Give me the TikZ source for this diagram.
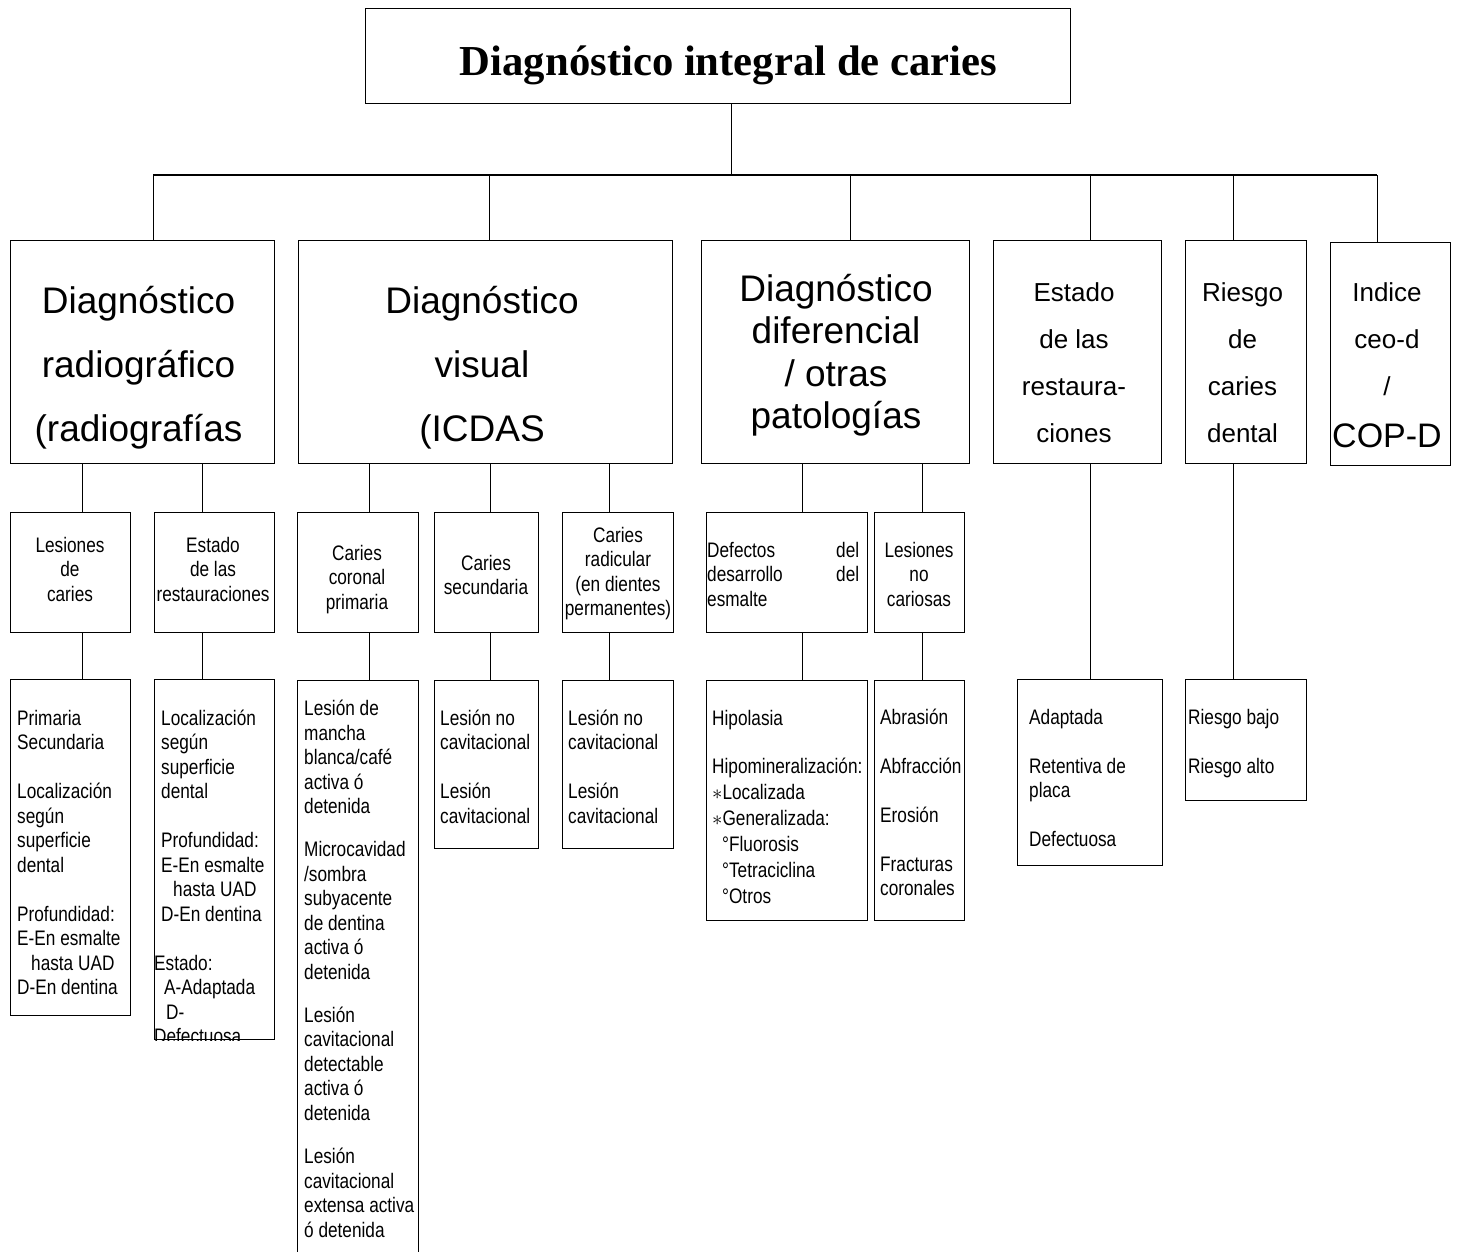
\documentclass[tikz,border=0pt]{standalone}
\usepackage{fontspec}
\setmainfont{Liberation Sans}
\newfontfamily\titlefont{Liberation Serif}
\newfontfamily\narrowfont{Liberation Sans}[FakeStretch=0.82]
\begin{document}
\begin{tikzpicture}[x=1pt,y=-1pt,
    boxed/.style={draw, line width=1.3pt, inner sep=0pt, anchor=north west},
    link/.style={line width=1.3pt},
    bigtxt/.style={font=\fontsize{37}{64.3}\selectfont, align=center, anchor=base, inner sep=0pt},
    midtxt/.style={font=\fontsize{26}{46.7}\selectfont, align=center, anchor=base, inner sep=0pt},
    subtxt/.style={font=\narrowfont\fontsize{21}{24.5}\selectfont, align=center, anchor=base, inner sep=0pt},
    listtxt/.style={font=\narrowfont\fontsize{21}{24.5}\selectfont, align=left, anchor=base west, inner sep=0pt}]
    \useasboundingbox (0,0) rectangle (1457,1251);

    % boxes
    \node[boxed, minimum width=705pt, minimum height=95pt] (title) at (365,8) {};
    \node[boxed, minimum width=264pt, minimum height=223pt] (rad) at (10,240) {};
    \node[boxed, minimum width=374pt, minimum height=223pt] (vis) at (298,240) {};
    \node[boxed, minimum width=268pt, minimum height=223pt] (dif) at (701,240) {};
    \node[boxed, minimum width=168pt, minimum height=223pt] (est) at (993,240) {};
    \node[boxed, minimum width=121pt, minimum height=223pt] (rie) at (1185,240) {};
    \node[boxed, minimum width=120pt, minimum height=223pt] (ind) at (1330,242) {};

    \node[boxed, minimum width=120pt, minimum height=120pt] (lcar) at (10,512) {};
    \node[boxed, minimum width=120pt, minimum height=120pt] (erest) at (154,512) {};
    \node[boxed, minimum width=121pt, minimum height=120pt] (cprim) at (297,512) {};
    \node[boxed, minimum width=104pt, minimum height=120pt] (csec) at (434,512) {};
    \node[boxed, minimum width=111pt, minimum height=120pt] (crad) at (562,512) {};
    \node[boxed, minimum width=161pt, minimum height=120pt] (defec) at (706,512) {};
    \node[boxed, minimum width=90pt, minimum height=120pt] (nocar) at (874,512) {};

    \node[boxed, minimum width=120pt, minimum height=336pt] (lcarl) at (10,679) {};
    \node[boxed, minimum width=120pt, minimum height=360pt] (erestl) at (154,679) {};
    \node[boxed, minimum width=121pt, minimum height=620pt] (cpriml) at (297,680) {};
    \node[boxed, minimum width=104pt, minimum height=168pt] (csecl) at (434,680) {};
    \node[boxed, minimum width=111pt, minimum height=168pt] (cradl) at (562,680) {};
    \node[boxed, minimum width=161pt, minimum height=240pt] (defecl) at (706,680) {};
    \node[boxed, minimum width=90pt, minimum height=240pt] (nocarl) at (874,680) {};
    \node[boxed, minimum width=145pt, minimum height=186pt] (estl) at (1017,679) {};
    \node[boxed, minimum width=121pt, minimum height=121pt] (riel) at (1185,679) {};

    % connectors
    \coordinate (busL) at (153,175);
    \coordinate (busR) at (1377,175);
    \draw[link] (busL) -- (busR);
    \draw[link] ([xshift=13.5pt]title.south) -- ([xshift=13.5pt]title.south |- busL);
    \draw[link] ([xshift=11pt]rad.north) -- ([xshift=11pt]rad.north |- busL);
    \draw[link] ([xshift=4pt]vis.north) -- ([xshift=4pt]vis.north |- busL);
    \draw[link] ([xshift=15pt]dif.north) -- ([xshift=15pt]dif.north |- busL);
    \draw[link] ([xshift=13pt]est.north) -- ([xshift=13pt]est.north |- busL);
    \draw[link] ([xshift=-12.5pt]rie.north) -- ([xshift=-12.5pt]rie.north |- busL);
    \draw[link] ([xshift=-13pt]ind.north) -- ([xshift=-13pt]ind.north |- busL);

    \draw[link] ([xshift=12pt]lcar.north) -- ([xshift=12pt]lcar.north |- rad.south);
    \draw[link] ([xshift=-12pt]erest.north) -- ([xshift=-12pt]erest.north |- rad.south);
    \draw[link] ([xshift=11.5pt]cprim.north) -- ([xshift=11.5pt]cprim.north |- vis.south);
    \draw[link] ([xshift=4pt]csec.north) -- ([xshift=4pt]csec.north |- vis.south);
    \draw[link] ([xshift=-8.5pt]crad.north) -- ([xshift=-8.5pt]crad.north |- vis.south);
    \draw[link] ([xshift=15.5pt]defec.north) -- ([xshift=15.5pt]defec.north |- dif.south);
    \draw[link] ([xshift=3pt]nocar.north) -- ([xshift=3pt]nocar.north |- dif.south);

    \draw[link] ([xshift=12pt]lcarl.north) -- ([xshift=12pt]lcarl.north |- lcar.south);
    \draw[link] ([xshift=-12pt]erestl.north) -- ([xshift=-12pt]erestl.north |- erest.south);
    \draw[link] ([xshift=11.5pt]cpriml.north) -- ([xshift=11.5pt]cpriml.north |- cprim.south);
    \draw[link] ([xshift=4pt]csecl.north) -- ([xshift=4pt]csecl.north |- csec.south);
    \draw[link] ([xshift=-8.5pt]cradl.north) -- ([xshift=-8.5pt]cradl.north |- crad.south);
    \draw[link] ([xshift=15.5pt]defecl.north) -- ([xshift=15.5pt]defecl.north |- defec.south);
    \draw[link] ([xshift=3pt]nocarl.north) -- ([xshift=3pt]nocarl.north |- nocar.south);
    \draw[link] ([xshift=0.5pt]estl.north) -- ([xshift=0.5pt]estl.north |- est.south);
    \draw[link] ([xshift=-12.5pt]riel.north) -- ([xshift=-12.5pt]riel.north |- rie.south);

    % texts (anchored at the baseline of their last line)
    \node[anchor=base, font=\titlefont\bfseries\fontsize{42.7}{50}\selectfont] (title-t) at (728.5,75) {Diagnóstico integral de caries};

    \node[bigtxt] (rad-t) at (138.5,441.6) {Diagnóstico\\radiográfico\\(radiografías};
    \node[bigtxt] (vis-t) at (482,441.6) {Diagnóstico\\visual\\(ICDAS};
    \node[bigtxt, font=\fontsize{37}{42.5}\selectfont] (dif-t) at (836,428.5) {Diagnóstico\\diferencial\\/ otras\\patologías};
    \node[midtxt] (est-t) at (1074,442) {Estado\\de las\\restaura-\\ciones};
    \node[midtxt] (rie-t) at (1242.5,442) {Riesgo\\de\\caries\\dental};
    \node[midtxt] (ind-t) at (1387,447) {Indice\\ceo-d\\/\\[5.3pt]{\fontsize{34}{46.7}\selectfont COP-D}};

    \node[subtxt] (lcar-t) at (70,601) {Lesiones\\de\\caries};
    \node[subtxt] (erest-t) at (213,601) {Estado\\de las\\restauraciones};
    \node[subtxt] (cprim-t) at (357,609) {Caries\\coronal\\primaria};
    \node[subtxt] (csec-t) at (486,594.5) {Caries\\secundaria};
    \node[subtxt] (crad-t) at (618,615.5) {Caries\\radicular\\(en dientes\\permanentes)};
    \node[listtxt] (defec-t) at (707,606) {\makebox[152pt]{Defectos\hfill del}\\\makebox[152pt]{desarrollo\hfill del}\\esmalte};
    \node[subtxt] (nocar-t) at (919,606) {Lesiones\\no\\cariosas};

    \node[listtxt] (lcarl-t) at (17,994.5) {Primaria\\Secundaria\\[24.5pt]Localización\\según\\superficie\\dental\\[24.5pt]Profundidad:\\E-En esmalte\\\hspace*{14pt}hasta UAD\\D-En dentina};
    \begin{scope}
        \clip (erestl.north west) rectangle (erestl.south east);
        \node[listtxt] (erestl-t) at (161,1043.5) {Localización\\según\\superficie\\dental\\[24.5pt]Profundidad:\\E-En esmalte\\\hspace*{12pt}hasta UAD\\D-En dentina\\[24.5pt]\hspace*{-7pt}Estado:\\\hspace*{3pt}A-Adaptada\\\hspace*{5pt}D-\\\hspace*{-7pt}Defectuosa};
    \end{scope}
    \node[listtxt] (cpriml-t) at (304,1237) {Lesión de\\mancha\\blanca/café\\activa ó\\detenida\\[18.6pt]Microcavidad\\/sombra\\subyacente\\de dentina\\activa ó\\detenida\\[18.6pt]Lesión\\cavitacional\\detectable\\activa ó\\detenida\\[18.6pt]Lesión\\cavitacional\\extensa activa\\ó detenida};
    \node[listtxt] (csecl-t) at (440,823) {Lesión no\\cavitacional\\[24.5pt]Lesión\\cavitacional};
    \node[listtxt] (cradl-t) at (568,823) {Lesión no\\cavitacional\\[24.5pt]Lesión\\cavitacional};
    \node[listtxt, font=\narrowfont\fontsize{21}{26}\selectfont] (defecl-t) at (712,903) {Hipolasia\\[22pt]Hipomineralización:\\$\ast$Localizada\\$\ast$Generalizada:\\\hspace*{10pt}°Fluorosis\\\hspace*{10pt}°Tetraciclina\\\hspace*{10pt}°Otros};
    \node[listtxt] (nocarl-t) at (880,895.5) {Abrasión\\[24.5pt]Abfracción\\[24.5pt]Erosión\\[24.5pt]Fracturas\\coronales};
    \node[listtxt] (estl-t) at (1029,846.5) {Adaptada\\[24.5pt]Retentiva de\\placa\\[24.5pt]Defectuosa};
    \node[listtxt] (riel-t) at (1188,773) {Riesgo bajo\\[24.5pt]Riesgo alto};
\end{tikzpicture}
\end{document}
